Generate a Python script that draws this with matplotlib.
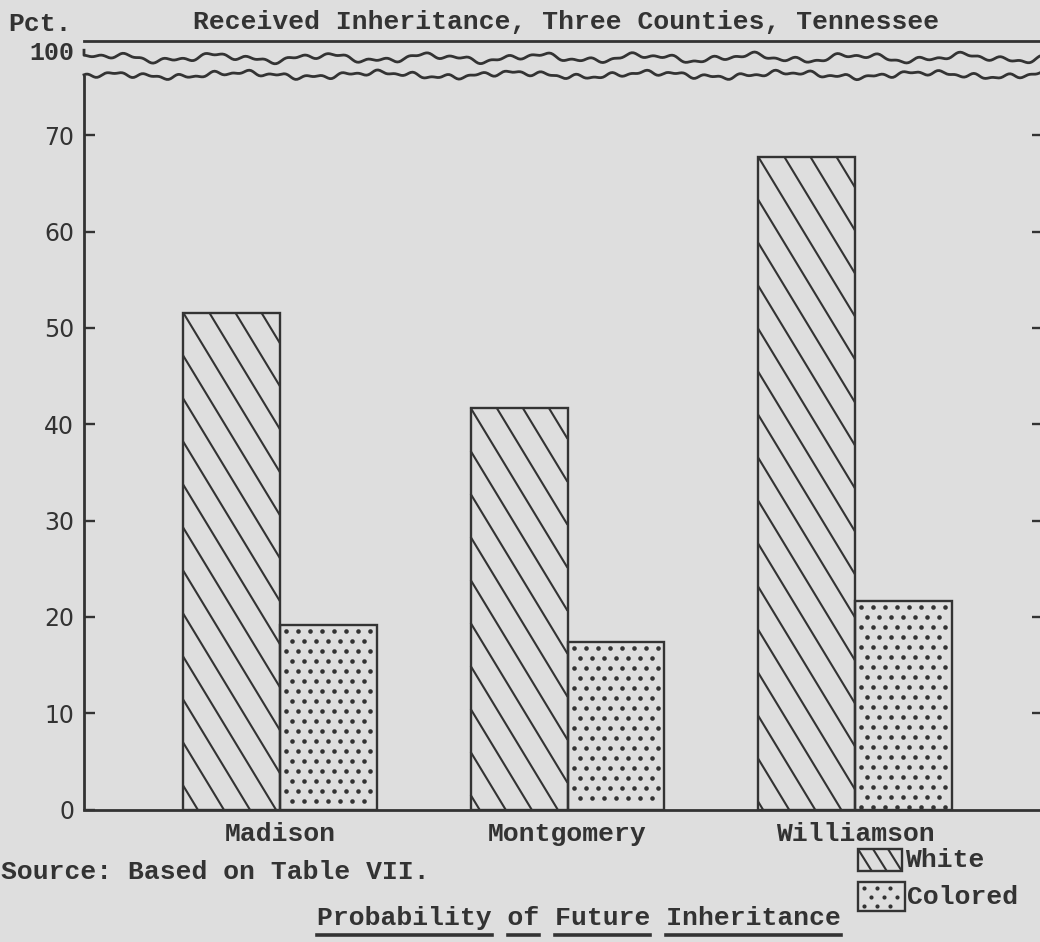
import numpy as np
import matplotlib
matplotlib.use("Agg")
import matplotlib.pyplot as plt
from matplotlib.patches import Rectangle
from matplotlib.collections import LineCollection
from matplotlib.lines import Line2D
from matplotlib.transforms import IdentityTransform

# values (percent)
counties = ["Madison", "Montgomery", "Williamson"]
white = [51.6, 41.7, 67.8]
colored = [19.2, 17.4, 21.7]
yticks = [0, 10, 20, 30, 40, 50, 60, 70, 100]

BG = "#dedede"
INK = "#333333"
MONO = "Liberation Mono"
TW = "bold"  # typewriter strokes are heavy in the scan

W, H = 1040, 942
fig = plt.figure(figsize=(W / 100, H / 100), dpi=100)
fig.patch.set_facecolor(BG)

# axes box in pixels: left spine x=84, baseline y=809.5, 100-line y=41
ax = fig.add_axes([84 / W, (H - 809.5) / H, (1043 - 84) / W, (809.5 - 41) / H])
ax.set_facecolor(BG)

# broken scale: 0-75 linear, 75-100 squeezed
k = 0.192
def fwd(v):
    v = np.asarray(v, dtype=float)
    return np.where(v <= 75, v, 75 + (v - 75) * k)
def inv(u):
    u = np.asarray(u, dtype=float)
    return np.where(u <= 75, u, 75 + (u - 75) / k)
ax.set_yscale("function", functions=(fwd, inv))
ax.set_ylim(0, 100)

x = np.arange(len(counties))
bw = 0.337
ax.set_xlim(-0.682, 2.654)

wb = ax.bar(x - bw / 2, white, bw, facecolor="none", edgecolor=INK, lw=1.7, zorder=3)
cb = ax.bar(x + bw / 2, colored, bw, facecolor="none", edgecolor=INK, lw=1.7, zorder=3)

# spines
ax.spines["right"].set_visible(False)
ax.spines["left"].set_visible(False)
ax.spines["top"].set_color(INK)
ax.spines["top"].set_linewidth(2.0)
ax.spines["bottom"].set_color(INK)
ax.spines["bottom"].set_linewidth(2.0)
ax.plot([0, 0], [0, 0.956], transform=ax.transAxes, color=INK, lw=2.0,
        clip_on=False, solid_capstyle="butt")

# axis break wiggles
t = np.linspace(0, 1, 500)
px = 1 / 768
w1 = 0.978 + px * (2.8 * np.sin(2 * np.pi * 9 * t) + 1.8 * np.sin(2 * np.pi * 23 * t + 1.1)
                   + 1.4 * np.sin(2 * np.pi * 47 * t + 2.3))
w2 = 0.956 + px * (2.2 * np.sin(2 * np.pi * 7 * t + 0.7) + 1.6 * np.sin(2 * np.pi * 29 * t + 2.0)
                   + 1.2 * np.sin(2 * np.pi * 53 * t + 0.4))
w2 = w2 - (w2[0] - 0.956) * np.exp(-t * 40)
ax.plot(np.r_[0, t], np.r_[0.988, w1], transform=ax.transAxes, color=INK, lw=2.0, clip_on=False)
ax.plot(t, w2, transform=ax.transAxes, color=INK, lw=2.0, clip_on=False)

# ticks
ax.set_yticks(yticks)
ax.set_yticklabels([str(v) for v in yticks])
ax.tick_params(axis="y", which="both", direction="in", length=8, width=1.7, color=INK,
               left=True, right=True, labelsize=17, labelcolor=INK, pad=7)
ax.yaxis.set_minor_locator(matplotlib.ticker.NullLocator())
for tk in ax.yaxis.get_major_ticks():
    tk.label1.set_fontfamily("DejaVu Sans")
last = ax.yaxis.get_major_ticks()[-1]
last.tick1line.set_visible(False)
last.tick2line.set_visible(False)
last.label1.set_fontfamily(MONO)
last.label1.set_fontweight(TW)
last.label1.set_fontsize(18)
last.label1.set_verticalalignment("top")
ax.yaxis.get_major_ticks()[0].tick2line.set_visible(False)

ax.set_xticks(x)
ax.set_xticklabels(counties, fontfamily=MONO, fontsize=19, color=INK, fontweight=TW)
ax.tick_params(axis="x", length=0, pad=9)

# texts
kw = dict(family=MONO, fontsize=19, color=INK, fontweight=TW)
fig.text(566 / W, 1 - 22 / H, "Received Inheritance, Three Counties, Tennessee",
         ha="center", va="center", **kw)
fig.text(8 / W, 1 - 24 / H, "Pct.", ha="left", va="center", **kw)
fig.text(1 / W, 1 - 872 / H, "Source: Based on Table VII.", ha="left", va="center", **kw)
fig.text(905 / W, 1 - 860 / H, "White", ha="left", va="center", **kw)
fig.text(907 / W, 1 - 897 / H, "Colored", ha="left", va="center", **kw)
foot = fig.text(579 / W, 1 - 918 / H, "Probability of Future Inheritance", ha="center",
                va="center", **kw)

fig.canvas.draw()
rend = fig.canvas.get_renderer()


def hatch_lines(box, spacing=43, slope=1.65, lw=1.5):
    # "\" lines clipped to the box (display pixels); one passes the top-left corner
    x0, y0, x1, y1 = box.x0, box.y0, box.x1, box.y1
    c_ref = y1 + slope * x0
    n_lo = int(np.ceil((y0 + slope * x0 - c_ref) / spacing))
    n_hi = int(np.floor((y1 + slope * x1 - c_ref) / spacing))
    segs = []
    for n in range(n_lo, n_hi + 1):
        c = c_ref + n * spacing  # line: y = c - slope*x
        xa = max(x0, (c - y1) / slope)
        xb = min(x1, (c - y0) / slope)
        if xb > xa:
            segs.append([(xa, c - slope * xa), (xb, c - slope * xb)])
    return LineCollection(segs, colors=INK, linewidths=lw, transform=IdentityTransform(),
                          clip_on=False)


def dots(box, dx=12, dy=10, ms=3.3):
    xs, ys = [], []
    row = 0
    yy = box.y1 - 6
    while yy > box.y0 + 2:
        off = 0 if row % 2 == 0 else dx / 2
        xx = box.x0 + 6 + off
        while xx < box.x1 - 3:
            xs.append(xx)
            ys.append(yy)
            xx += dx
        yy -= dy
        row += 1
    return Line2D(xs, ys, linestyle="none", marker="o", markersize=ms, color=INK,
                  markeredgewidth=0, transform=IdentityTransform(), clip_on=False)


for p in wb.patches:
    fig.add_artist(hatch_lines(p.get_window_extent(rend)))
for p in cb.patches:
    fig.add_artist(dots(p.get_window_extent(rend)))

# legend swatches (pixel coords, origin bottom-left)
r1 = Rectangle((858, H - 871), 44, 22, transform=IdentityTransform(), facecolor="none",
               edgecolor=INK, lw=1.7)
r2 = Rectangle((858, H - 911), 47, 29, transform=IdentityTransform(), facecolor="none",
               edgecolor=INK, lw=1.7)
fig.add_artist(r1)
fig.add_artist(r2)
fig.add_artist(hatch_lines(r1.get_window_extent(rend), spacing=24, slope=1.6, lw=1.5))
fig.add_artist(dots(r2.get_window_extent(rend), dx=13, dy=9, ms=3.0))

# underline each word of the footer title
fb = foot.get_window_extent(rend)
txt = foot.get_text()
cw = fb.width / len(txt)
pos = 0
for word in txt.split(" "):
    xa = fb.x0 + pos * cw
    xb = xa + len(word) * cw
    fig.add_artist(Line2D([xa, xb], [H - 935, H - 935], color=INK, lw=2.6,
                          transform=IdentityTransform()))
    pos += len(word) + 1

fig.savefig("out.png", dpi=100, facecolor=BG)
